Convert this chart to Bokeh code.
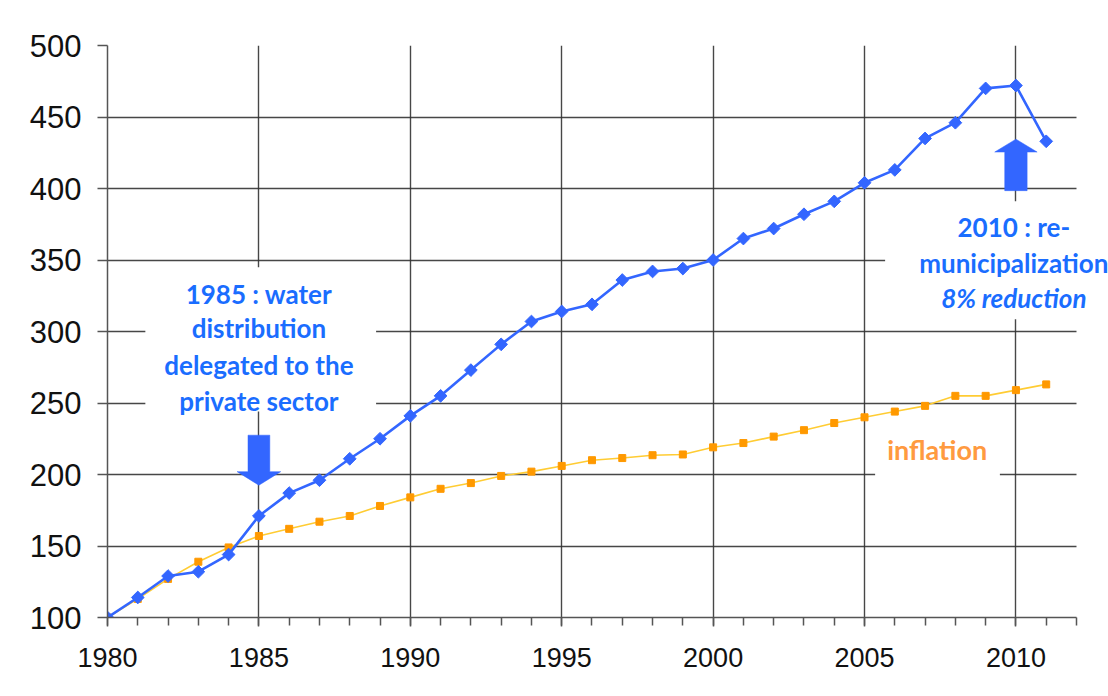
import math
from bokeh.plotting import figure
from bokeh.models import Range1d, SingleIntervalTicker, BoxAnnotation, Label
from bokeh.embed import file_html
from bokeh.resources import INLINE

years = list(range(1980, 2012))
water_price = [100, 114, 129, 132, 144, 171, 187, 196, 211, 225,
               241, 255, 273, 291, 307, 314, 319, 336, 342, 344,
               350, 365, 372, 382, 391, 404, 413, 435, 446, 470,
               472, 433]
inflation = [100, 113, 127, 139, 149, 157, 162, 167, 171, 178,
             184, 190, 194, 199, 202, 206, 210, 211.5, 213.5, 214,
             219, 222, 226.5, 231, 236, 240, 244, 248, 255, 255,
             259, 263]

note_1985 = ["1985 : water", "distribution", "delegated to the", "private sector"]
note_2010 = ["2010 : re-", "municipalization", "8% reduction"]
note_infl = "inflation"

BLUE = "#3366ff"
TXT_BLUE = "#1a6dff"
ORANGE = "#ff9900"
GOLD = "#ffcc33"
GRID = "#333333"

X_END = 2012          # end of the drawn axis
X_VIEW = 2013.057     # frame extends to the canvas edge so the note is not clipped

p = figure(width=1108, height=696, output_backend="svg", toolbar_location=None,
           x_range=Range1d(1980, X_VIEW), y_range=Range1d(100, 500),
           min_border_left=107, min_border_right=0, min_border_top=45, min_border_bottom=79,
           background_fill_color="white", border_fill_color="white")
p.outline_line_color = None

# axes
p.xaxis.ticker = SingleIntervalTicker(interval=5, num_minor_ticks=5)
p.xaxis.bounds = (1980, X_END)
p.yaxis.ticker = SingleIntervalTicker(interval=50, num_minor_ticks=0)
p.xgrid.ticker = SingleIntervalTicker(interval=5, num_minor_ticks=0)
p.ygrid.ticker = SingleIntervalTicker(interval=50, num_minor_ticks=0)
for ax in (p.xaxis, p.yaxis):
    ax.axis_line_color = "#555555"
    ax.axis_line_width = 1.5
    ax.major_tick_line_color = "#555555"
    ax.major_tick_line_width = 1.5
    ax.minor_tick_line_color = "#555555"
    ax.minor_tick_line_width = 1.5
    ax.major_label_text_font = "Liberation Sans"
    ax.major_label_text_color = "#111111"
p.xaxis.major_tick_in = 0
p.xaxis.major_tick_out = 9
p.xaxis.minor_tick_in = 0
p.xaxis.minor_tick_out = 8
p.xaxis.major_label_text_font_size = "27px"
p.xaxis.major_label_standoff = 21
p.yaxis.major_tick_in = 0
p.yaxis.major_tick_out = 10
p.yaxis.minor_tick_line_color = None
p.yaxis.major_label_text_font_size = "31px"
p.yaxis.major_label_standoff = 16

for g in (p.xgrid, p.ygrid):
    g.grid_line_color = GRID
    g.grid_line_width = 1.4
    g.grid_line_alpha = 0.9

# white boxes: right of the axis end, and behind the notes (hide gridlines)
for (l, r, b, t) in [(X_END, X_VIEW + 1, 90, 510),
                     (1981.25, 1988.87, 244, 345), (2005.68, X_VIEW + 1, 308.5, 391),
                     (2005.35, 2009.47, 191.5, 233.5)]:
    bx = BoxAnnotation(left=l, right=r, bottom=b, top=t, fill_color="white", fill_alpha=1.0,
                       line_color=None, level="underlay")
    p.add_layout(bx)

# data
p.line(years, inflation, line_color=GOLD, line_width=1.6)
p.scatter(years, inflation, marker="square", size=7, fill_color=ORANGE, line_color=ORANGE)
p.line(years, water_price, line_color=BLUE, line_width=2.6)
p.scatter(years, water_price, marker="square", angle=math.pi / 4, size=9,
          fill_color=BLUE, line_color=BLUE)

# arrows
def arrow(xc, shaft_end, head_base, tip, shaft_hw=0.36, head_hw=0.72):
    xs = [xc - shaft_hw, xc + shaft_hw, xc + shaft_hw, xc + head_hw, xc, xc - head_hw, xc - shaft_hw]
    ys = [shaft_end, shaft_end, head_base, head_base, tip, head_base, head_base]
    p.patch(xs, ys, fill_color=BLUE, line_color=BLUE, line_width=0.5)

arrow(1985, 227.5, 202, 192.5)
arrow(2010, 398.5, 425.5, 434.5, head_hw=0.7, shaft_hw=0.37)

# note texts
def note(x, y, txt, color, style="bold", size="26px"):
    p.add_layout(Label(x=x, y=y, text=txt, text_font="Lato", text_font_style=style,
                       text_font_size=size, text_color=color, text_align="center",
                       text_baseline="middle"))

for txt, yy in zip(note_1985, [326.0, 302.2, 276.9, 251.7]):
    note(1985.0, yy, txt, TXT_BLUE)
for i, (txt, yy) in enumerate(zip(note_2010, [373.0, 347.8, 323.2])):
    note(2009.93, yy, txt, TXT_BLUE, "bold italic" if i == 2 else "bold")
note(2007.4, 217.3, note_infl, "#ff9a40", size="27px")

open("out.html", "w").write(file_html(p, INLINE))
